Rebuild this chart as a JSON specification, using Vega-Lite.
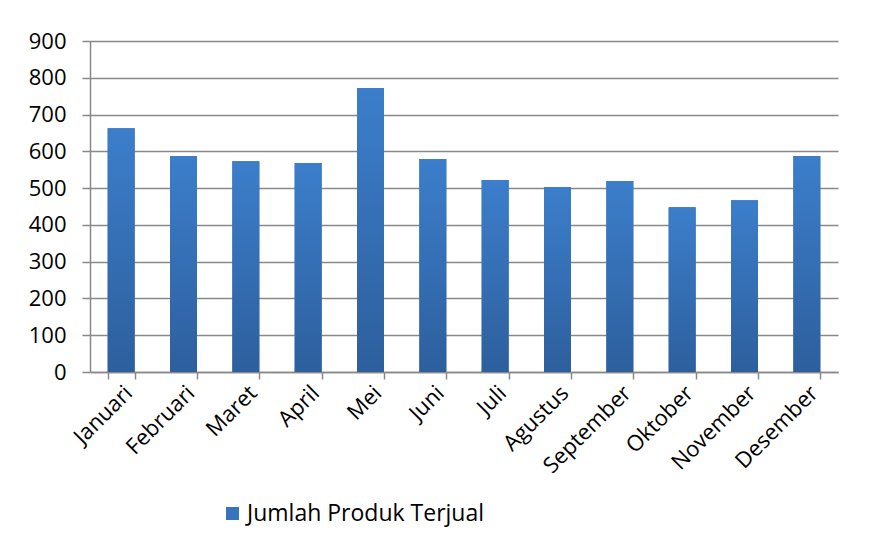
{
  "$schema": "https://vega.github.io/schema/vega-lite/v6.json",
  "width": 748,
  "height": 331,
  "autosize": {"type": "none"},
  "padding": {"left": 90, "top": 41, "right": 39, "bottom": 165},
  "background": "white",
  "config": {
    "view": {"stroke": null},
    "font": "Open Sans"
  },
  "data": {
    "values": [
      {"bulan": "Januari", "jumlah": 663, "series": "Jumlah Produk Terjual"},
      {"bulan": "Februari", "jumlah": 587, "series": "Jumlah Produk Terjual"},
      {"bulan": "Maret", "jumlah": 573, "series": "Jumlah Produk Terjual"},
      {"bulan": "April", "jumlah": 568, "series": "Jumlah Produk Terjual"},
      {"bulan": "Mei", "jumlah": 772, "series": "Jumlah Produk Terjual"},
      {"bulan": "Juni", "jumlah": 579, "series": "Jumlah Produk Terjual"},
      {"bulan": "Juli", "jumlah": 522, "series": "Jumlah Produk Terjual"},
      {"bulan": "Agustus", "jumlah": 503, "series": "Jumlah Produk Terjual"},
      {"bulan": "September", "jumlah": 519, "series": "Jumlah Produk Terjual"},
      {"bulan": "Oktober", "jumlah": 448, "series": "Jumlah Produk Terjual"},
      {"bulan": "November", "jumlah": 467, "series": "Jumlah Produk Terjual"},
      {"bulan": "Desember", "jumlah": 587, "series": "Jumlah Produk Terjual"}
    ]
  },
  "encoding": {
    "x": {
      "field": "bulan",
      "type": "nominal",
      "sort": null,
      "title": null,
      "scale": {"paddingInner": 0.567, "paddingOuter": 0.2835},
      "axis": {
        "labelAngle": -45,
        "labelFontSize": 22,
        "labelColor": "#000000",
        "labelPadding": 3,
        "tickBand": "extent",
        "tickSize": 7,
        "tickColor": "#898989",
        "tickWidth": 1.5,
        "domainColor": "#898989",
        "domainWidth": 1.5,
        "grid": false
      }
    },
    "y": {
      "field": "jumlah",
      "type": "quantitative",
      "title": null,
      "scale": {"domain": [0, 900], "nice": false},
      "axis": {
        "values": [0, 100, 200, 300, 400, 500, 600, 700, 800, 900],
        "labelFontSize": 22,
        "labelColor": "#000000",
        "labelPadding": 16,
        "tickSize": 8,
        "tickColor": "#898989",
        "tickWidth": 1.5,
        "domainColor": "#898989",
        "domainWidth": 1.5,
        "gridColor": "#898989",
        "gridWidth": 1.5
      }
    }
  },
  "layer": [
    {
      "mark": {"type": "bar"},
      "encoding": {
        "color": {
          "field": "series",
          "type": "nominal",
          "scale": {"range": ["#3873be"]},
          "legend": {
            "title": null,
            "orient": "none",
            "legendX": 131,
            "legendY": 461,
            "symbolType": "square",
            "symbolSize": 169,
            "symbolStrokeWidth": 0,
            "labelFontSize": 23,
            "labelColor": "#000000",
            "labelOffset": 3,
            "labelLimit": 400
          }
        }
      }
    },
    {
      "mark": {
        "type": "bar",
        "fill": {
          "gradient": "linear",
          "x1": 0, "y1": 0, "x2": 0, "y2": 1,
          "stops": [
            {"offset": 0, "color": "#3c7ecb"},
            {"offset": 1, "color": "#2d5f9d"}
          ]
        }
      }
    }
  ]
}
